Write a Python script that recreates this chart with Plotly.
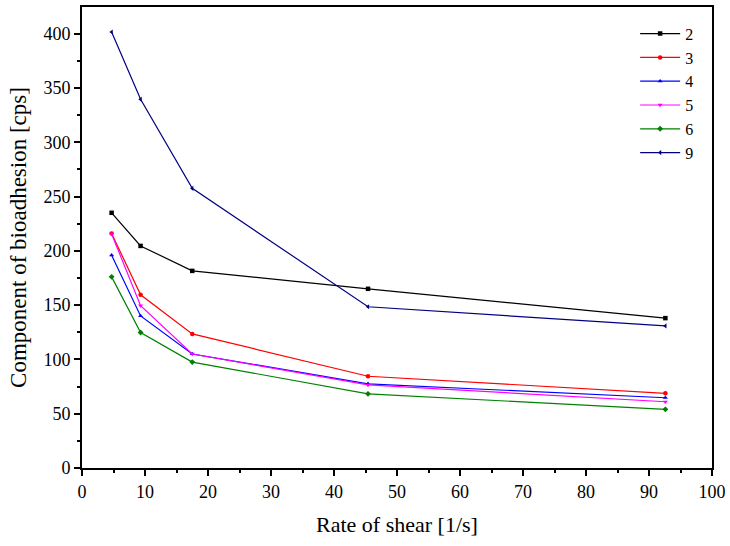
import plotly.graph_objects as go

shear_rate = [4.7, 9.3, 17.5, 45.4, 92.6]
series_names = ["2", "3", "4", "5", "6", "9"]
s2 = [235, 204.5, 181.5, 165, 138]
s3 = [216, 159.5, 123.5, 84.5, 68.8]
s4 = [196, 140, 105, 77.5, 64.7]
s5 = [215.5, 149.5, 105, 76.5, 61]
s6 = [176, 124.8, 97.5, 68.3, 54]
s9 = [401.5, 339.5, 257.5, 148.5, 130.8]
series_values = [s2, s3, s4, s5, s6, s9]
colors = ["#000000", "#ff0000", "#0000ff", "#ff00ff", "#008000", "#000080"]
symbols = ["square", "circle", "triangle-up", "triangle-down", "diamond", "triangle-left"]

x_ticks = list(range(0, 101, 10))
y_ticks = list(range(0, 401, 50))

fig = go.Figure()
for name, vals, c, s in zip(series_names, series_values, colors, symbols):
    fig.add_trace(go.Scatter(
        x=shear_rate, y=vals, name=name, mode="lines+markers",
        line=dict(color=c, width=1.2),
        marker=dict(color=c, symbol=s, size=4.5),
    ))

font = "Liberation Serif, Times New Roman, serif"
fig.update_layout(
    width=730, height=546,
    margin=dict(l=82, r=18, t=7, b=78, autoexpand=False),
    paper_bgcolor="white", plot_bgcolor="white",
    font=dict(family=font, size=18, color="black"),
    showlegend=True,
    legend=dict(x=0.878, y=0.979, xanchor="left", yanchor="top",
                bgcolor="rgba(0,0,0,0)", font=dict(size=16, family=font, color="black"),
                tracegroupgap=0, itemwidth=40),
)
axis_common = dict(
    showgrid=False, zeroline=False, showline=True, linecolor="black", linewidth=2,
    mirror=True, ticks="outside", ticklen=6, tickwidth=2, tickcolor="black",
    tickfont=dict(size=18, family=font, color="black"), automargin=False,
)
fig.update_xaxes(
    range=[0, 100], tickvals=x_ticks, ticktext=[str(v) for v in x_ticks],
    minor=dict(dtick=5, tick0=0, ticks="outside", ticklen=3, tickwidth=2, tickcolor="black"),
    title=dict(text="Rate of shear [1/s]", font=dict(size=22, family=font, color="black"), standoff=16),
    **axis_common,
)
fig.update_yaxes(
    range=[0, 424.5], tickvals=y_ticks, ticktext=[str(v) for v in y_ticks],
    minor=dict(dtick=25, tick0=0, ticks="outside", ticklen=3, tickwidth=2, tickcolor="black"),
    title=dict(text="Component of bioadhesion [cps]", font=dict(size=23, family=font, color="black"), standoff=10),
    **axis_common,
)

fig.write_html("out.html", config={"displayModeBar": False},
               post_script="document.body.style.margin='0px';")
